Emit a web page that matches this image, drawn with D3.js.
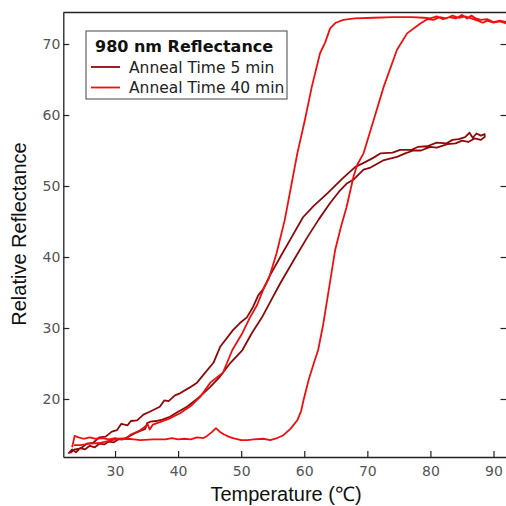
<!DOCTYPE html>
<html><head><meta charset="utf-8">
<script src="https://cdn.jsdelivr.net/npm/d3@7"></script>
<style>body{margin:0;background:#fff}svg{display:block}</style>
</head><body><svg id="c" width="506" height="506"></svg>
<script>
const xTicks=[30,40,50,60,70,80,90];
const yTicks=[20,30,40,50,60,70];
const seriesNames=["Anneal Time 5 min","Anneal Time 40 min"];
const legendTitle="980 nm Reflectance";
const fiveHeat=[[22.6,12.3],[23.2,12.9],[23.8,12.5],[24.5,13.1],[25.2,12.9],[26,13.4],[26.8,13.2],[27.5,13.7],[28.3,13.6],[29,14.0],[29.8,13.9],[30.5,14.3],[31.2,14.3],[31.9,14.6],[33,15.1],[34,15.5],[34.8,15.8],[35.1,16.6],[35.6,16.8],[36.5,16.9],[37.5,17.1],[38.7,17.5],[40,18.2],[41.4,18.9],[43,20.0],[44,20.8],[45.1,21.7],[46.5,23.0],[48.3,25.1],[50.2,26.9],[51.7,29.3],[53.3,31.5],[54.8,34.0],[56.2,36.3],[58.3,39.5],[60.5,42.8],[62.3,45.3],[64.1,47.6],[65.5,49.2],[66.8,50.4],[67.8,50.9],[69.4,52.3],[70.5,52.6],[72.5,53.6],[74.7,54.1],[76,54.6],[77.3,55.0],[78.5,55.0],[80,55.5],[81,55.4],[82.7,55.9],[84,56.0],[85,56.4],[86,56.2],[87,56.7],[88,56.5],[88.6,56.9]];
const fiveCool=[[88.6,57.3],[88,57.1],[87.3,57.4],[86.7,56.8],[86.2,57.5],[85.5,56.9],[84.5,56.6],[83.5,56.5],[82.5,56.0],[81,56.1],[79.5,55.6],[78,55.5],[77,55.1],[75.2,55.1],[74,54.7],[72.1,54.6],[71,54.0],[69.5,53.3],[68.1,52.7],[66,51.0],[63.7,49.0],[61.5,47.2],[59.8,45.6],[58,42.8],[56.2,40.0],[54.5,37.3],[53.5,35.5],[52.7,34.6],[51.9,33.0],[50.9,31.5],[49.8,30.7],[48.7,29.7],[46.7,27.4],[45.6,25.1],[44.2,23.6],[43,22.3],[41.8,21.6],[40.3,20.8],[39.5,20.5],[38.5,19.7],[37.8,19.8],[37.1,18.9],[35.5,18.2],[34.5,17.8],[33.5,17.0],[32.5,16.9],[32,16.3],[31,16.5],[30.3,15.6],[29.5,15.4],[28.5,14.7],[27.5,14.6],[26.5,13.8],[25.5,13.7],[24.5,13.0],[23.6,12.9],[22.9,12.4]];
const fortyHeat=[[23.2,13.2],[23.6,14.8],[24.2,14.6],[25,14.4],[26,14.6],[27,14.4],[28,14.5],[29,14.3],[30,14.5],[31,14.3],[32,14.4],[33,14.3],[34,14.2],[36,14.3],[38,14.3],[39,14.5],[40,14.3],[41,14.4],[42,14.3],[43,14.6],[44,14.5],[44.6,14.8],[45.3,15.3],[46.0,15.9],[46.6,15.4],[47.3,15.0],[48.0,14.7],[48.7,14.5],[50,14.2],[51,14.2],[52,14.3],[53.5,14.4],[54.6,14.2],[55.7,14.5],[56.7,14.9],[57.8,15.8],[58.9,17.0],[59.5,18.3],[59.9,19.9],[60.7,22.7],[61.5,25.0],[62.2,26.9],[63.0,30.5],[64.0,36],[64.9,41.0],[65.8,44.2],[66.7,47.0],[67.8,51.3],[68.4,53.0],[69.4,54.6],[71.0,59.3],[72.6,64.0],[74.7,69.2],[76.3,71.5],[78.4,72.9],[79.5,73.5],[80.5,73.4],[81.5,73.8],[82.5,73.6],[83.5,74.0],[84.5,73.7],[85.5,73.9],[86.8,73.5],[87.5,73.3],[88.3,73.0],[89,73.3],[90,73.0],[91,73.2],[92.1,72.9]];
const fortyCool=[[92.1,73.1],[91,73.3],[90,73.1],[89,73.5],[88,73.4],[87.2,73.6],[86.5,74.0],[85.8,73.6],[85,74.1],[84,73.6],[83,73.8],[82,73.5],[81,73.9],[80,73.6],[79,73.7],[77,73.8],[74,73.8],[71,73.7],[68,73.6],[66.2,73.4],[65,73.0],[64.1,72.2],[63.3,70.2],[62.5,68.7],[61.2,64.0],[60.1,59.3],[58.9,54.6],[57.9,49.9],[56.9,45.2],[55.6,40.5],[54.4,37.0],[53.5,35.4],[52.5,33.2],[51.4,31.5],[50.2,29.3],[48.6,26.9],[47.1,23.7],[45.1,22.3],[43.5,20.3],[42,19.0],[40.3,18.0],[38.5,17.2],[37,16.7],[36,16.4],[35.5,15.7],[35.2,16.4],[34,15.6],[32.5,15.0],[31.9,14.5],[30.5,14.4],[29,14.1],[27.5,13.8],[26,13.7],[24.5,13.5],[23.5,13.5]];

const colors=["#8e0a0a","#f00f0f"];
const L=63.3,R=506.5,T=12.5,B=457;
const x=d3.scaleLinear().domain([21.8,92.06]).range([L,R]);
const y=d3.scaleLinear().domain([11.83,74.44]).range([B,T]);
const svg=d3.select("#c");
svg.append("defs").append("clipPath").attr("id","clip").append("rect").attr("x",L).attr("y",T).attr("width",R-L).attr("height",B-T);

const line=d3.line().x(d=>x(d[0])).y(d=>y(d[1]));
const g=svg.append("g").attr("clip-path","url(#clip)");
const data=[fiveHeat.concat(fiveCool),fortyHeat.concat(fortyCool)];
data.forEach((d,i)=>g.append("path").attr("d",line(d)).attr("fill","none").attr("stroke",colors[i]).attr("stroke-width",1.8).attr("stroke-linejoin","round"));

const tickFont="DejaVu Sans";
const ax=svg.append("g").attr("transform",`translate(0,${B})`).call(d3.axisBottom(x).tickValues(xTicks).tickSize(-6).tickPadding(9).tickSizeOuter(0));
const ay=svg.append("g").attr("transform",`translate(${L},0)`).call(d3.axisLeft(y).tickValues(yTicks).tickSize(-6).tickPadding(3).tickSizeOuter(0));
const ar=svg.append("g").attr("transform",`translate(${R},0)`).call(d3.axisRight(y).tickValues(yTicks).tickSize(-6).tickFormat("").tickSizeOuter(0));
[ax,ay,ar].forEach(a=>{a.select(".domain").attr("stroke","#222").attr("stroke-width",1.3);a.selectAll(".tick line").attr("stroke","#222").attr("stroke-width",1.2);a.selectAll("text").attr("font-family",tickFont).attr("font-size",14).attr("fill","#555");});
svg.append("line").attr("x1",L).attr("x2",R).attr("y1",T).attr("y2",T).attr("stroke","#222").attr("stroke-width",1.3);

svg.append("text").attr("x",286).attr("y",501).attr("text-anchor","middle").attr("font-family","Liberation Sans, Arial, sans-serif").attr("font-size",20).attr("fill","#111").text("Temperature (℃)");
svg.append("text").attr("transform","translate(26,234) rotate(-90)").attr("text-anchor","middle").attr("font-family","Liberation Sans, Arial, sans-serif").attr("font-size",20).attr("fill","#111").text("Relative Reflectance");

const lg=svg.append("g");
lg.append("rect").attr("x",86).attr("y",31).attr("width",201).attr("height",68).attr("fill","#fff").attr("stroke","#444").attr("stroke-width",1);
lg.append("text").attr("x",95).attr("y",52).attr("font-family","DejaVu Sans").attr("font-weight","bold").attr("font-size",16).attr("fill","#111").text(legendTitle);
seriesNames.forEach((n,i)=>{
  const yy=67+i*20.5;
  lg.append("line").attr("x1",91).attr("x2",120).attr("y1",yy).attr("y2",yy).attr("stroke",colors[i]).attr("stroke-width",1.8);
  lg.append("text").attr("x",129).attr("y",yy+5.5).attr("font-family","DejaVu Sans").attr("font-size",15.5).attr("fill","#222").text(n);
});
</script></body></html>
